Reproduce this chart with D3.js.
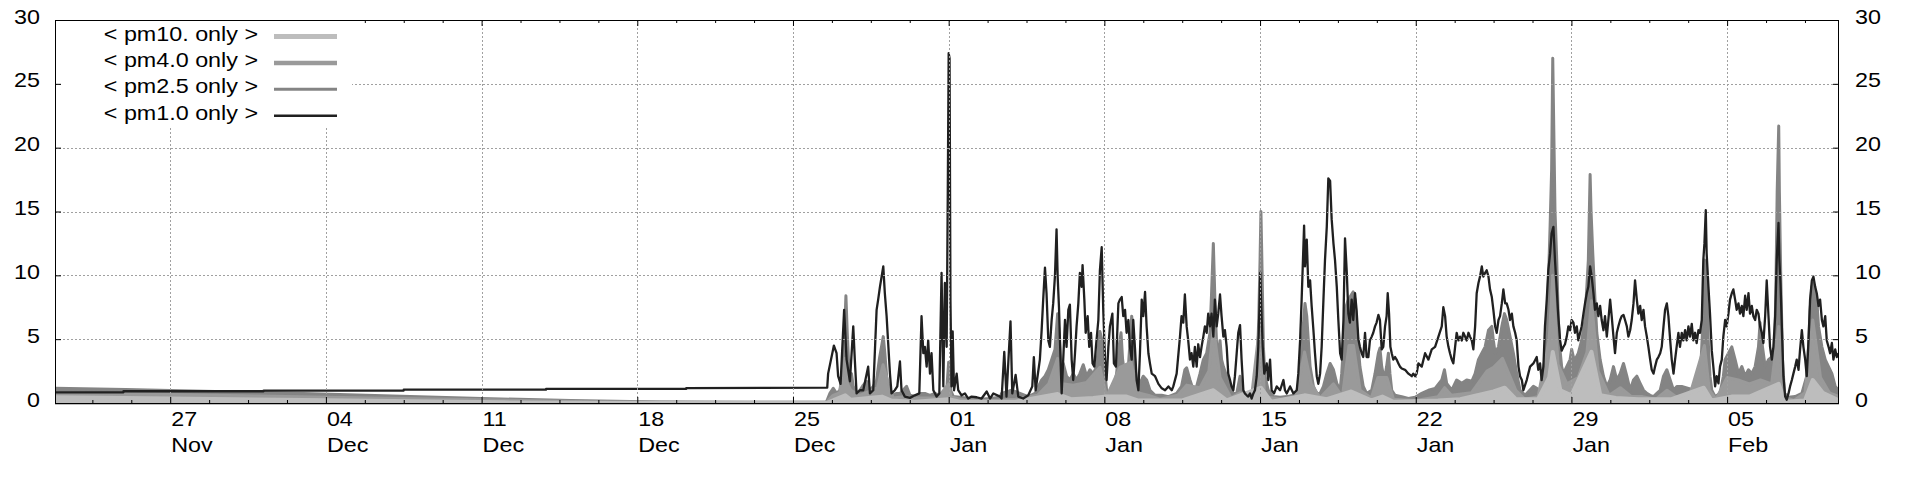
<!DOCTYPE html>
<html><head><meta charset="utf-8">
<script src="https://cdn.jsdelivr.net/npm/d3@7"></script>
<style>
html,body{margin:0;padding:0;background:#fff;}
svg{display:block;}
text{font-family:"Liberation Sans",Arial,sans-serif;font-size:21px;fill:#000;}
</style></head><body>
<svg id="chart" width="1920" height="480"></svg>
<script>
// ---- data (x = days relative to 01 Jan 00:00) ----
const xDomain = [-40.18, 40.03];
const xTickDays = [-35,-28,-21,-14,-7,0,7,14,21,28,35];
const xTickDay = ["27","04","11","18","25","01","08","15","22","29","05"];
const xTickMonth = ["Nov","Dec","Dec","Dec","Dec","Jan","Jan","Jan","Jan","Jan","Feb"];
const yTicks = [0,5,10,15,20,25,30];
const seriesNames = ["< pm10. only >","< pm4.0 only >","< pm2.5 only >","< pm1.0 only >"];
const seriesColors = ["#bdbdbd","#9a9a9a","#848484","#202020"];

const pm1_0 = [[-40.18,0.84],[-37.1,0.84],[-37.1,0.92],[-30.8,0.92],[-30.8,0.97],[-24.5,0.97],[-24.5,1.04],[-18.1,1.04],[-18.1,1.1],[-11.8,1.1],[-11.8,1.16],[-5.46,1.2],
[-5.42,2.3],[-5.16,4.5],[-5.04,3.9],[-4.97,2.1],[-4.86,1.5],[-4.70,7.3],[-4.59,3.4],[-4.44,1.7],[-4.29,6.0],[-4.22,3.4],[-4.14,0.75],[-3.99,1.0],[-3.84,1.0],[-3.62,2.85],[-3.54,0.75],[-3.39,1.0],[-3.24,7.3],[-3.17,8.1],[-3.09,9.1],[-2.94,10.7],[-2.87,8.6],[-2.79,6.8],[-2.72,4.7],[-2.64,2.3],[-2.57,0.75],[-2.42,1.0],[-2.31,1.3],[-2.19,3.25],[-2.12,1.0],[-1.97,0.5],[-1.74,0.4],[-1.52,0.6],[-1.32,0.75],[-1.22,6.8],[-1.14,3.9],[-1.07,4.4],[-0.99,2.85],[-0.92,4.9],[-0.84,2.3],[-0.77,3.9],[-0.69,1.0],[-0.54,0.5],[-0.42,0.75],[-0.32,10.2],[-0.24,1.3],[-0.17,9.4],[-0.09,4.4],[-0.04,16.4],[0.0,27.4],[0.04,27.0],[0.08,8.0],[0.13,1.3],[0.18,5.6],[0.24,1.0],[0.36,2.3],[0.43,1.0],[0.58,0.6],[0.73,0.75],[0.88,0.35],[1.03,0.5],[1.26,0.45],[1.48,0.35],[1.71,0.9],[1.86,0.35],[2.01,0.75],[2.31,0.5],
[2.38,0.35],[2.50,4.0],[2.60,0.5],[2.78,6.4],[2.86,0.75],[3.01,2.2],[3.13,0.5],[3.35,0.35],[3.58,0.6],[3.76,1.3],[3.83,3.6],[3.91,1.0],[4.10,3.4],[4.18,5.7],[4.25,8.1],[4.33,10.6],[4.40,8.6],[4.48,4.9],[4.55,4.4],[4.63,6.5],[4.70,7.8],[4.78,10.0],[4.85,13.6],[4.90,9.9],[4.96,7.5],[5.03,3.4],[5.08,0.75],[5.15,3.4],[5.23,6.5],[5.30,4.4],[5.38,7.3],[5.45,7.7],[5.53,3.4],[5.60,1.8],[5.68,3.9],[5.75,6.0],[5.83,7.8],[5.90,10.2],[5.98,9.1],[6.02,10.8],[6.10,8.1],[6.16,5.5],[6.25,6.8],[6.32,4.4],[6.40,5.5],[6.47,3.1],[6.55,2.85],[6.62,4.4],[6.73,6.5],[6.80,10.4],[6.88,12.2],[6.95,7.3],[7.03,3.4],[7.10,1.8],[7.18,4.4],[7.25,6.0],[7.36,7.0],[7.43,3.1],[7.52,2.85],[7.63,7.8],[7.70,8.1],[7.78,8.3],[7.85,6.8],[7.93,7.3],[8.00,5.5],[8.08,6.5],[8.15,4.4],[8.23,3.4],[8.30,6.5],[8.38,4.2],[8.45,1.8],[8.53,1.0],[8.60,3.9],[8.68,8.1],[8.75,6.8],[8.83,8.7],[8.90,6.0],[8.98,3.9],[9.05,3.1],[9.13,2.3],[9.28,2.1],[9.43,1.5],[9.58,1.15],[9.73,1.0],[9.88,1.3],[10.03,1.0],
[10.10,1.3],[10.25,2.3],[10.40,5.2],[10.47,6.8],[10.55,6.3],[10.62,8.5],[10.70,6.0],[10.77,4.9],[10.85,3.4],[10.92,3.9],[11.00,2.85],[11.07,4.4],[11.15,2.85],[11.22,4.6],[11.30,3.6],[11.37,4.4],[11.45,5.2],[11.52,6.0],[11.60,5.5],[11.67,7.0],[11.75,6.0],[11.82,7.0],[11.90,5.2],[11.97,8.1],[12.05,6.0],[12.12,7.0],[12.20,8.5],[12.27,6.8],[12.35,5.2],[12.42,5.7],[12.50,4.4],[12.57,2.3],[12.65,1.8],[12.72,1.3],[12.80,1.0],[12.87,2.1],[12.95,3.9],[13.02,5.5],[13.10,6.1],[13.17,3.4],[13.25,1.0],[13.32,0.75],[13.40,0.6],[13.47,0.5],[13.55,0.75],[13.62,0.35],[13.70,0.75],[13.77,1.0],[13.85,2.1],[13.92,4.4],[13.97,7.3],[14.01,10.2],[14.06,7.3],[14.12,4.4],[14.19,2.3],[14.30,3.1],[14.37,1.8],[14.45,3.4],[14.52,1.0],[14.63,0.75],[14.75,1.3],[14.90,1.0],[15.05,1.8],[15.12,1.0],[15.20,0.75],[15.35,1.3],[15.50,0.75],[15.65,1.0],[15.72,2.3],[15.80,4.9],[15.87,8.1],[15.92,10.7],[15.98,13.9],[16.02,10.7],[16.10,12.8],[16.17,9.1],[16.25,9.6],[16.32,7.6],[16.40,5.7],[16.47,3.9],[16.55,2.1],[16.62,1.5],[16.70,2.3],[16.77,4.4],[16.85,8.1],[16.92,11.2],[17.00,13.8],[17.07,17.6],[17.15,17.4],[17.22,14.4],[17.30,12.5],[17.37,11.2],[17.45,9.1],[17.52,6.5],[17.60,3.9],[17.67,3.4],[17.75,6.5],[17.82,12.9],
[17.90,10.2],[17.97,7.0],[18.04,6.3],[18.12,8.1],[18.19,6.5],[18.27,8.6],[18.34,7.3],[18.42,5.0],[18.49,4.4],[18.57,3.9],[18.64,3.6],[18.72,5.5],[18.79,3.6],[18.87,3.6],[18.94,4.9],[19.02,5.2],[19.09,5.5],[19.17,6.0],[19.24,6.3],[19.32,6.9],[19.39,6.5],[19.47,4.2],[19.54,4.4],[19.62,6.0],[19.69,6.8],[19.74,8.6],[19.80,7.0],[19.86,4.4],[19.92,3.9],[19.99,3.4],[20.07,3.6],[20.14,3.4],[20.22,3.1],[20.29,2.85],[20.37,2.7],[20.52,2.6],[20.67,2.3],[20.82,2.1],[20.89,2.3],[20.97,2.1],[21.04,2.3],[21.12,3.1],[21.27,2.85],[21.42,3.9],[21.57,3.4],[21.72,4.2],[21.87,4.4],[22.02,5.2],[22.17,6.0],[22.24,7.5],[22.32,6.8],[22.39,5.2],[22.47,4.4],[22.54,3.9],[22.62,3.4],[22.69,3.1],[22.77,4.4],[22.84,5.5],[22.92,4.9],[22.99,5.2],[23.07,4.9],[23.14,5.5],[23.22,5.2],[23.29,4.9],[23.37,5.5],[23.44,5.2],[23.52,4.9],[23.59,4.2],[23.67,6.0],[23.74,8.6],[23.82,9.4],[23.89,9.9],[23.97,10.7],[24.04,9.9],[24.12,10.2],[24.19,10.4],[24.27,9.9],[24.34,8.9],[24.42,8.3],[24.49,7.3],[24.57,6.0],[24.64,5.5],[24.72,6.5],[24.79,6.8],[24.87,7.8],[24.94,8.9],[25.02,7.8],[25.09,7.8],[25.17,7.3],[25.24,6.5],[25.32,7.0],[25.39,6.0],[25.47,5.5],[25.54,4.9],[25.62,2.85],[25.69,2.1],[25.77,1.8],
[25.84,1.0],[25.99,1.8],[26.14,2.85],[26.29,3.1],[26.44,3.6],[26.51,2.6],[26.59,3.1],[26.66,1.8],[26.74,2.85],[26.81,6.0],[26.89,8.1],[26.96,10.4],[27.04,11.7],[27.11,13.3],[27.19,13.8],[27.26,11.2],[27.34,8.9],[27.41,6.8],[27.49,4.9],[27.56,4.1],[27.64,4.4],[27.71,4.6],[27.79,5.2],[27.86,6.0],[27.94,5.7],[28.01,6.5],[28.09,6.3],[28.16,5.5],[28.24,6.0],[28.31,4.9],[28.39,5.5],[28.46,6.0],[28.54,7.0],[28.61,7.8],[28.69,8.6],[28.76,9.1],[28.84,10.7],[28.91,9.9],[28.99,8.6],[29.06,7.3],[29.14,7.8],[29.21,6.8],[29.29,7.6],[29.36,6.5],[29.44,5.7],[29.51,6.8],[29.59,5.2],[29.66,6.5],[29.74,8.1],[29.81,6.8],[29.89,5.2],[29.96,3.9],[30.04,5.5],[30.11,6.0],[30.19,6.5],[30.26,6.8],[30.34,6.9],[30.41,6.5],[30.49,6.0],[30.56,5.2],[30.64,5.7],[30.71,6.5],[30.79,7.8],[30.86,9.6],[30.94,8.1],[31.01,7.0],[31.09,7.6],[31.16,6.5],[31.24,7.3],[31.31,6.0],[31.39,5.2],[31.46,4.4],[31.54,3.4],[31.61,2.6],[31.69,2.3],[31.76,2.85],[31.84,3.4],[31.91,3.6],[31.99,3.9],[32.06,4.4],[32.14,6.0],[32.21,7.3],[32.29,7.8],[32.36,6.8],[32.44,4.9],[32.51,3.4],[32.59,2.3],
[32.66,3.4],[32.73,4.4],[32.81,5.5],[32.88,4.4],[32.96,5.5],[33.03,4.9],[33.11,5.7],[33.18,4.9],[33.26,6.0],[33.33,5.2],[33.41,6.2],[33.48,4.9],[33.56,5.5],[33.63,4.7],[33.71,5.7],[33.78,5.5],[33.86,6.5],[33.93,11.2],[33.98,12.5],[34.04,15.1],[34.08,11.7],[34.16,9.1],[34.23,7.0],[34.31,4.1],[34.38,2.85],[34.46,1.3],[34.53,2.1],[34.61,1.54],[34.68,2.85],[34.76,3.4],[34.83,5.2],[34.91,6.5],[34.98,6.0],[35.06,7.0],[35.13,8.1],[35.21,8.6],[35.28,8.9],[35.36,8.1],[35.43,7.3],[35.51,7.8],[35.58,7.0],[35.66,7.6],[35.73,6.8],[35.81,8.4],[35.88,7.3],[35.96,8.6],[36.03,7.0],[36.11,7.6],[36.18,6.8],[36.26,6.5],[36.33,7.3],[36.41,7.0],[36.48,6.0],[36.56,5.5],[36.63,4.7],[36.71,6.8],[36.78,9.6],[36.86,6.8],[36.93,4.4],[37.01,3.4],[37.08,4.4],[37.16,6.8],[37.23,11.2],[37.31,14.1],[37.35,11.2],[37.40,9.4],[37.46,6.0],[37.53,2.1],[37.61,0.5],[37.68,0.25],[37.76,0.75],[37.83,1.3],[37.91,1.8],[37.98,2.3],[38.06,2.85],[38.13,3.4],[38.21,2.6],[38.28,4.2],[38.36,5.7],[38.43,4.4],[38.51,3.4],[38.58,2.1],[38.66,4.9],[38.73,8.1],[38.81,9.6],[38.88,9.9],[38.96,9.1],[39.03,8.6],[39.11,7.6],[39.18,8.1],[39.26,6.5],[39.33,6.0],[39.41,6.8],[39.48,4.9],[39.56,4.4],[39.63,3.9],[39.71,4.7],[39.78,3.4],[39.86,4.2],[39.93,3.6],[40.01,3.9]];

const pm2_5 = [[-40.18,1.15],[-37,1.05],[-33,0.9],[-29,0.75],[-25,0.55],[-21,0.35],[-17,0.2],[-13,0.08],[-9,0.05],[-5.5,0.05],
[-5.34,0.75],[-5.19,1.15],[-5.04,0.75],[-4.89,1.0],[-4.74,2.85],[-4.67,6.0],[-4.62,8.4],[-4.56,5.5],[-4.47,2.1],[-4.37,2.3],[-4.29,1.3],[-4.14,0.75],[-3.99,1.0],[-3.84,1.4],[-3.69,1.7],[-3.54,1.0],[-3.39,1.3],[-3.24,1.8],[-3.12,3.4],[-3.02,4.4],[-2.94,5.2],[-2.87,3.9],[-2.79,2.1],[-2.72,1.0],[-2.57,0.6],[-2.34,0.75],[-2.19,0.75],[-1.89,1.3],[-1.74,0.6],[-1.44,0.5],[-1.29,0.75],[-1.07,0.75],[-0.84,0.6],[-0.62,0.75],[-0.39,0.6],[-0.09,1.0],[0.0,3.2],[0.09,1.0],[0.21,0.5],[0.51,0.45],[0.96,0.35],[1.41,0.3],[1.86,0.35],[2.31,0.45],
[2.38,0.75],[2.83,1.0],[3.58,0.5],[3.88,0.75],[4.18,1.8],[4.33,2.1],[4.48,2.6],[4.63,3.4],[4.78,4.2],[4.90,7.0],[4.96,5.5],[5.05,2.85],[5.15,3.1],[5.30,2.1],[5.45,1.8],[5.60,2.3],[5.75,1.8],[5.90,2.3],[6.05,3.0],[6.20,2.1],[6.35,2.6],[6.50,2.3],[6.65,2.85],[6.80,5.6],[6.91,4.8],[7.00,2.85],[7.10,1.0],[7.25,0.75],[7.40,1.0],[7.55,2.3],[7.66,4.4],[7.75,5.5],[7.82,3.4],[7.93,2.1],[8.08,2.85],[8.23,6.8],[8.32,4.4],[8.45,1.3],[8.60,1.54],[8.75,2.1],[8.90,1.8],[9.05,1.0],[9.28,0.6],[9.58,0.6],[9.88,0.5],
[10.25,0.75],[10.47,1.3],[10.62,2.6],[10.70,2.75],[10.85,1.8],[11.00,1.0],[11.15,1.3],[11.30,2.3],[11.45,3.4],[11.60,3.9],[11.75,5.5],[11.82,8.6],[11.90,12.5],[11.97,8.1],[12.05,4.4],[12.12,3.9],[12.20,4.9],[12.27,3.4],[12.35,2.85],[12.50,2.1],[12.65,1.3],[12.80,0.75],[12.95,0.75],[13.10,2.1],[13.17,1.0],[13.32,0.6],[13.55,0.35],[13.77,1.0],[13.88,3.4],[13.94,6.5],[14.00,11.2],[14.04,15.0],[14.09,10.4],[14.15,4.4],[14.22,2.1],[14.37,1.0],[14.60,0.5],[14.90,0.45],[15.20,0.5],[15.50,0.6],[15.72,1.0],[15.83,2.85],[15.92,5.5],[16.02,7.8],[16.10,6.8],[16.17,4.9],[16.25,2.85],[16.40,1.3],[16.55,0.75],[16.70,0.75],[16.85,1.3],[17.00,2.3],[17.15,3.1],[17.30,2.6],[17.45,1.54],[17.60,1.0],[17.67,2.3],[17.75,4.4],[17.82,7.3],
[17.97,8.1],[18.19,8.7],[18.27,8.1],[18.34,6.0],[18.42,4.4],[18.49,2.85],[18.64,1.3],[18.79,0.75],[19.02,1.0],[19.17,2.3],[19.32,3.9],[19.39,4.3],[19.47,2.85],[19.59,1.8],[19.69,2.85],[19.77,3.9],[19.84,2.3],[19.92,1.0],[20.07,0.6],[20.37,0.5],[20.67,0.35],[20.97,0.45],[21.27,0.75],[21.57,1.0],[21.87,1.15],[22.17,1.8],[22.29,2.6],[22.39,1.54],[22.62,1.0],[22.84,1.8],[23.07,1.54],[23.29,1.8],[23.52,1.7],[23.67,2.3],[23.82,3.4],[23.97,3.9],[24.12,4.4],[24.27,5.7],[24.42,6.0],[24.49,4.9],[24.57,3.9],[24.72,4.4],[24.87,6.0],[24.99,7.0],[25.09,6.5],[25.24,5.2],[25.39,3.9],[25.54,2.3],[25.69,1.0],[25.92,0.6],
[25.99,0.75],[26.29,1.3],[26.59,1.0],[26.74,2.3],[26.89,5.2],[27.04,13.8],[27.11,18.3],[27.16,27.0],[27.26,15.1],[27.34,11.2],[27.41,6.5],[27.49,4.1],[27.56,2.85],[27.64,2.3],[27.79,2.85],[27.94,3.4],[28.01,4.2],[28.09,3.6],[28.16,3.4],[28.31,3.9],[28.46,4.9],[28.61,6.5],[28.76,11.2],[28.84,17.9],[28.88,15.1],[28.96,11.7],[29.06,8.1],[29.14,5.5],[29.29,3.4],[29.44,2.1],[29.59,1.3],[29.74,1.8],[29.89,2.85],[30.04,1.8],[30.19,2.3],[30.34,3.1],[30.49,2.1],[30.64,1.0],[30.79,1.8],[30.94,2.1],[31.09,1.54],[31.24,1.0],[31.39,0.75],[31.54,0.6],[31.69,0.5],[31.84,0.75],[31.99,1.0],[32.14,2.1],[32.29,2.6],[32.44,1.8],[32.59,1.0],[32.74,1.3],
[32.96,1.3],[33.26,1.15],[33.56,1.0],[33.78,1.54],[33.89,5.5],[33.98,11.2],[34.04,10.9],[34.10,8.0],[34.16,4.5],[34.23,2.1],[34.31,1.0],[34.46,0.5],[34.68,0.75],[34.83,2.1],[34.91,3.4],[35.06,3.9],[35.21,4.4],[35.36,3.4],[35.51,2.3],[35.66,2.85],[35.81,2.1],[35.96,2.6],[36.11,2.3],[36.26,2.85],[36.41,4.4],[36.48,6.3],[36.59,4.4],[36.71,2.85],[36.86,3.4],[37.01,3.6],[37.11,2.3],[37.19,8.6],[37.25,16.5],[37.32,21.7],[37.35,16.5],[37.41,10.0],[37.49,3.4],[37.58,0.75],[37.76,0.45],[38.06,0.5],[38.36,0.75],[38.58,2.1],[38.66,4.4],[38.73,7.3],[38.81,9.1],[38.88,9.4],[38.96,8.6],[39.03,8.1],[39.11,6.0],[39.26,4.4],[39.41,3.4],[39.56,2.85],[39.71,2.3],[39.86,1.3],[40.01,1.0]];

const pm4_0 = [[-40.18,0.8],[-36,0.7],[-31,0.55],[-26,0.4],[-21,0.25],[-16,0.1],[-11,0.05],[-5.5,0.05],
[-5.2,0.6],[-4.9,0.8],[-4.65,3.5],[-4.55,1.5],[-4.4,1.0],[-4.0,0.6],[-3.6,0.9],[-3.2,1.2],[-2.95,3.0],[-2.7,1.5],[-2.5,0.4],[-2.0,0.5],[-1.5,0.4],[-1.0,0.4],[-0.5,0.4],[0.0,1.5],[0.1,0.5],[0.5,0.3],[1.0,0.2],[2.0,0.2],[3.0,0.3],[4.0,0.6],[4.5,1.5],[4.9,3.5],[5.1,1.5],[5.6,1.4],[6.2,1.6],[6.8,2.8],[7.1,0.5],[7.7,2.8],[8.2,3.2],[8.5,0.8],[9.0,0.6],[9.5,0.3],[10.3,0.6],[10.7,1.4],[11.3,1.2],[11.7,2.5],[11.9,6.0],[12.2,2.0],[12.7,0.4],[13.1,0.8],[13.6,0.2],[14.04,7.0],[14.2,0.5],[15.0,0.3],[15.6,0.4],[16.0,4.0],[16.3,1.5],[16.7,0.4],[17.3,1.5],[17.7,0.5],[18.0,4.5],[18.2,4.5],[18.5,1.0],[19.0,0.4],[19.3,2.0],[19.7,2.0],[20.0,0.3],[21.0,0.2],[22.0,0.5],[22.3,1.2],[22.6,0.6],[23.5,0.8],[24.2,2.5],[24.5,2.8],[24.9,3.5],[25.5,1.0],[25.9,0.3],[26.5,0.5],[27.0,5.0],[27.16,10.0],[27.4,3.0],[27.8,1.5],[28.3,2.0],[28.7,4.0],[28.9,8.0],[29.2,2.5],[29.7,0.6],[30.2,1.2],[30.7,0.5],[31.2,0.5],[31.8,0.3],[32.3,1.0],[32.7,0.5],[33.3,0.5],[33.98,4.5],[34.2,1.0],[34.5,0.3],[35.0,2.0],[35.5,1.8],[36.0,1.5],[36.5,1.8],[37.0,1.5],[37.32,6.0],[37.5,0.5],[38.0,0.2],[38.5,0.8],[38.85,6.5],[39.2,2.0],[39.6,0.8],[40.03,0.5]];

const pm10 = [[-40.18,0.45],[-35,0.35],[-30,0.25],[-25,0.15],[-20,0.05],[-15,0.0],[-5.5,0.0],
[-5.2,0.2],[-4.65,0.6],[-4.4,0.25],[-3.0,0.5],[-2.6,0.2],[-1.5,0.1],[0.0,0.3],[0.5,0.1],[3.0,0.1],[4.9,0.7],[5.5,0.3],[6.5,0.4],[7.0,0.5],[8.0,0.5],[8.5,0.2],[10.5,0.2],[11.9,1.0],[12.5,0.2],[14.04,1.2],[14.5,0.1],[16.0,0.6],[17.0,0.3],[18.1,0.9],[19.0,0.2],[19.5,0.5],[20.0,0.1],[22.0,0.2],[23.0,0.3],[24.5,0.9],[25.0,1.2],[25.5,0.3],[26.5,0.3],[27.0,2.0],[27.16,4.0],[27.5,1.0],[28.0,0.6],[28.9,4.0],[29.3,0.6],[30.0,0.4],[31.0,0.3],[32.5,0.3],[33.95,1.2],[34.3,0.2],[35.2,0.5],[36.0,0.5],[37.32,1.5],[37.6,0.1],[38.5,0.2],[38.85,1.8],[39.3,0.8],[40.03,0.2]];

// ---- layout ----
const svg = d3.select("#chart");
const L = 55, R = 1839, T = 20, B = 403;
const x = d3.scaleLinear().domain(xDomain).range([L, R]);
const y = d3.scaleLinear().domain([0, 30]).range([B, T]);
const STRETCH = 1.11;
function stretch(sel){
  sel.each(function(){
    const len = this.getComputedTextLength();
    this.setAttribute("textLength", (len*STRETCH).toFixed(2));
    this.setAttribute("lengthAdjust", "spacingAndGlyphs");
  });
}

svg.append("defs").append("clipPath").attr("id","clip")
  .append("rect").attr("x",L).attr("y",T).attr("width",R-L).attr("height",B-T+8);

const plot = svg.append("g").attr("clip-path","url(#clip)");
const area = d3.area().x(d=>x(d[0])).y0(y(0)).y1(d=>y(d[1]));
const line = d3.line().x(d=>x(d[0])).y(d=>y(d[1]));

const grayLayers = [
  {data: pm2_5, color: seriesColors[2], w: 3},
  {data: pm4_0, color: seriesColors[1], w: 3},
  {data: pm10,  color: seriesColors[0], w: 4}
];
grayLayers.forEach(s=>{
  plot.append("path").datum(s.data).attr("d", area)
    .attr("fill", s.color).attr("stroke", s.color)
    .attr("stroke-width", s.w).attr("stroke-linejoin","round");
});
plot.append("path").datum(pm1_0).attr("d", line)
  .attr("fill","none").attr("stroke", seriesColors[3])
  .attr("stroke-width", 2.3).attr("stroke-linejoin","round");

// grid (front)
const grid = svg.append("g").attr("stroke","#a0a0a0").attr("stroke-width",1).attr("stroke-dasharray","2,2");
xTickDays.forEach(d=>{
  grid.append("line").attr("x1",Math.round(x(d))+0.5).attr("x2",Math.round(x(d))+0.5).attr("y1",T).attr("y2",B);
});
yTicks.filter(v=>v>0 && v<30).forEach(v=>{
  grid.append("line").attr("x1",L).attr("x2",R).attr("y1",Math.round(y(v))+0.5).attr("y2",Math.round(y(v))+0.5);
});

// axes with D3
const xMinor = d3.range(-38.5, xDomain[1], 1.75).filter(d => !xTickDays.some(t=>Math.abs(t-d)<0.01));
function styleAxis(g){ g.select(".domain").remove(); g.selectAll("line").attr("stroke","#000"); g.selectAll("text").remove(); }
svg.append("g").attr("transform",`translate(0,${B})`)
  .call(d3.axisTop(x).tickValues(xTickDays).tickSize(6)).call(styleAxis);
svg.append("g").attr("transform",`translate(0,${B})`)
  .call(d3.axisTop(x).tickValues(xMinor).tickSize(3)).call(styleAxis);
svg.append("g").attr("transform",`translate(0,${T})`)
  .call(d3.axisBottom(x).tickValues(xTickDays).tickSize(6)).call(styleAxis);
svg.append("g").attr("transform",`translate(0,${T})`)
  .call(d3.axisBottom(x).tickValues(xMinor).tickSize(3)).call(styleAxis);
svg.append("g").attr("transform",`translate(${L},0)`)
  .call(d3.axisRight(y).tickValues(yTicks).tickSize(6)).call(styleAxis);
svg.append("g").attr("transform",`translate(${R},0)`)
  .call(d3.axisLeft(y).tickValues(yTicks).tickSize(6)).call(styleAxis);

// border
svg.append("rect").attr("x",L+0.5).attr("y",T+0.5).attr("width",R-L-1).attr("height",B-T)
  .attr("fill","none").attr("stroke","#000").attr("stroke-width",1);

// tick labels
const yl = svg.append("g");
yl.selectAll("text.l").data(yTicks).join("text").attr("class","l")
  .attr("x", L-15).attr("y", d=>y(d)+3.5).attr("text-anchor","end").text(d=>d).call(stretch);
yl.selectAll("text.r").data(yTicks).join("text").attr("class","r")
  .attr("x", R+16).attr("y", d=>y(d)+3.5).attr("text-anchor","start").text(d=>d).call(stretch);
const xl = svg.append("g");
xl.selectAll("text.d").data(xTickDays).join("text").attr("class","d")
  .attr("x", d=>x(d)+1).attr("y", 426).text((d,i)=>xTickDay[i]).call(stretch);
xl.selectAll("text.m").data(xTickDays).join("text").attr("class","m")
  .attr("x", d=>x(d)+1).attr("y", 452).text((d,i)=>xTickMonth[i]).call(stretch);

// legend
svg.append("rect").attr("x",62).attr("y",T+1).attr("width",290).attr("height",107).attr("fill","#fff");
const legW = [5,4.5,3,2.5];
const leg = svg.append("g");
seriesNames.forEach((n,i)=>{
  const by = 40.5 + i*26.4;
  leg.append("text").attr("x",258).attr("y",by).attr("text-anchor","end").text(n).call(stretch);
  leg.append("line").attr("x1",274).attr("x2",337).attr("y1",by-4).attr("y2",by-4)
    .attr("stroke",seriesColors[i]).attr("stroke-width",legW[i]);
});
</script>
</body></html>
